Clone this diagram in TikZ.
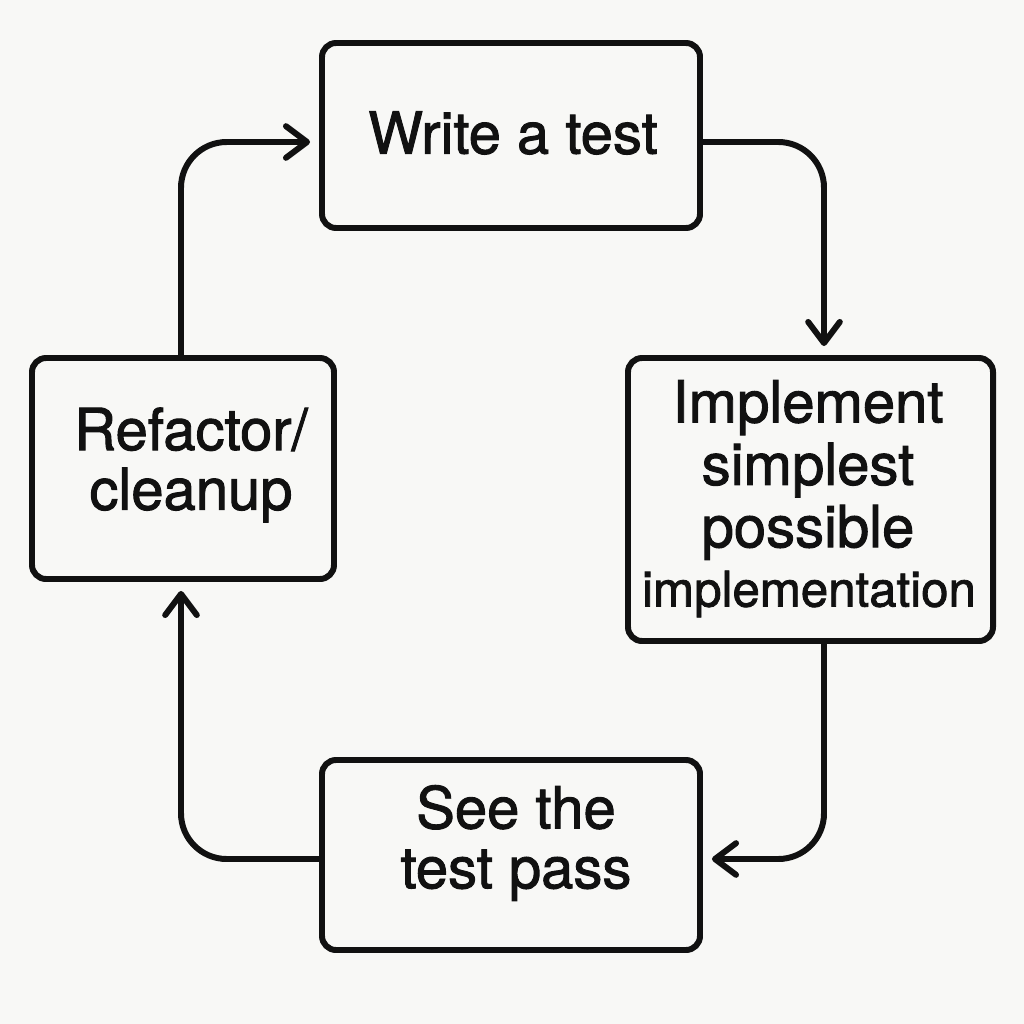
\documentclass[tikz,border=0pt]{standalone}
\usepackage{fontspec}
\setmainfont{TeX Gyre Heros}[FakeBold=1.6]
\usetikzlibrary{arrows.meta}
\definecolor{bg}{HTML}{F8F8F6}
\definecolor{ink}{HTML}{111111}
\begin{document}
\begin{tikzpicture}[x=0.02cm,y=-0.02cm,
  box/.style={draw=ink,line width=3.4pt,rounded corners=8pt,fill=bg,inner sep=0pt},
  lbl/.style={align=center,font=\fontsize{33}{35}\selectfont,text=ink},
  conn/.style={draw=ink,line width=3.4pt,rounded corners=26pt,
    -{Straight Barb[length=12pt,width=18pt,line cap=round,line join=round]}}]
\fill[bg] (0,0) rectangle (1024,1024);
\useasboundingbox (0,0) rectangle (1024,1024);
% boxes
\node[box,minimum width=378*0.02cm,minimum height=185*0.02cm] (write) at (511,135.5) {};
\node[box,minimum width=365*0.02cm,minimum height=283*0.02cm] (impl) at (810.5,499.5) {};
\node[box,minimum width=378*0.02cm,minimum height=190*0.02cm] (pass) at (511,855) {};
\node[box,minimum width=302*0.02cm,minimum height=221*0.02cm] (refac) at (183,468.5) {};
% labels
\node[lbl] (twrite) at (513,133) {Write a test};
\node[lbl,font=\fontsize{33}{35.5}\selectfont] (timpl) at (808,470) {Implement\\simplest\\possible};
\node[lbl,font=\fontsize{28}{30}\selectfont] (timpl2) at (809,594) {implementation};
\node[lbl,font=\fontsize{33}{34}\selectfont] (tpass) at (516,843) {See the\\test pass};
\node[lbl,font=\fontsize{33}{34}\selectfont] (trefac) at (191,465) {Refactor/\\cleanup};
% connector corners
\coordinate (c1) at (824,142);
\coordinate (c2) at (824,859);
\coordinate (c3) at (181,859);
\coordinate (c4) at (181,142);
% connectors
\draw[conn] (write.east |- c1) -- (c1) -- ([yshift=0.18cm]c1 |- impl.north);
\draw[conn] (c2 |- impl.south) -- (c2) -- ([xshift=0.18cm]pass.east |- c2);
\draw[conn] (pass.west |- c3) -- (c3) -- ([yshift=-0.18cm]c3 |- refac.south);
\draw[conn] (c4 |- refac.north) -- (c4) -- ([xshift=-0.18cm]write.west |- c4);
\end{tikzpicture}
\end{document}
